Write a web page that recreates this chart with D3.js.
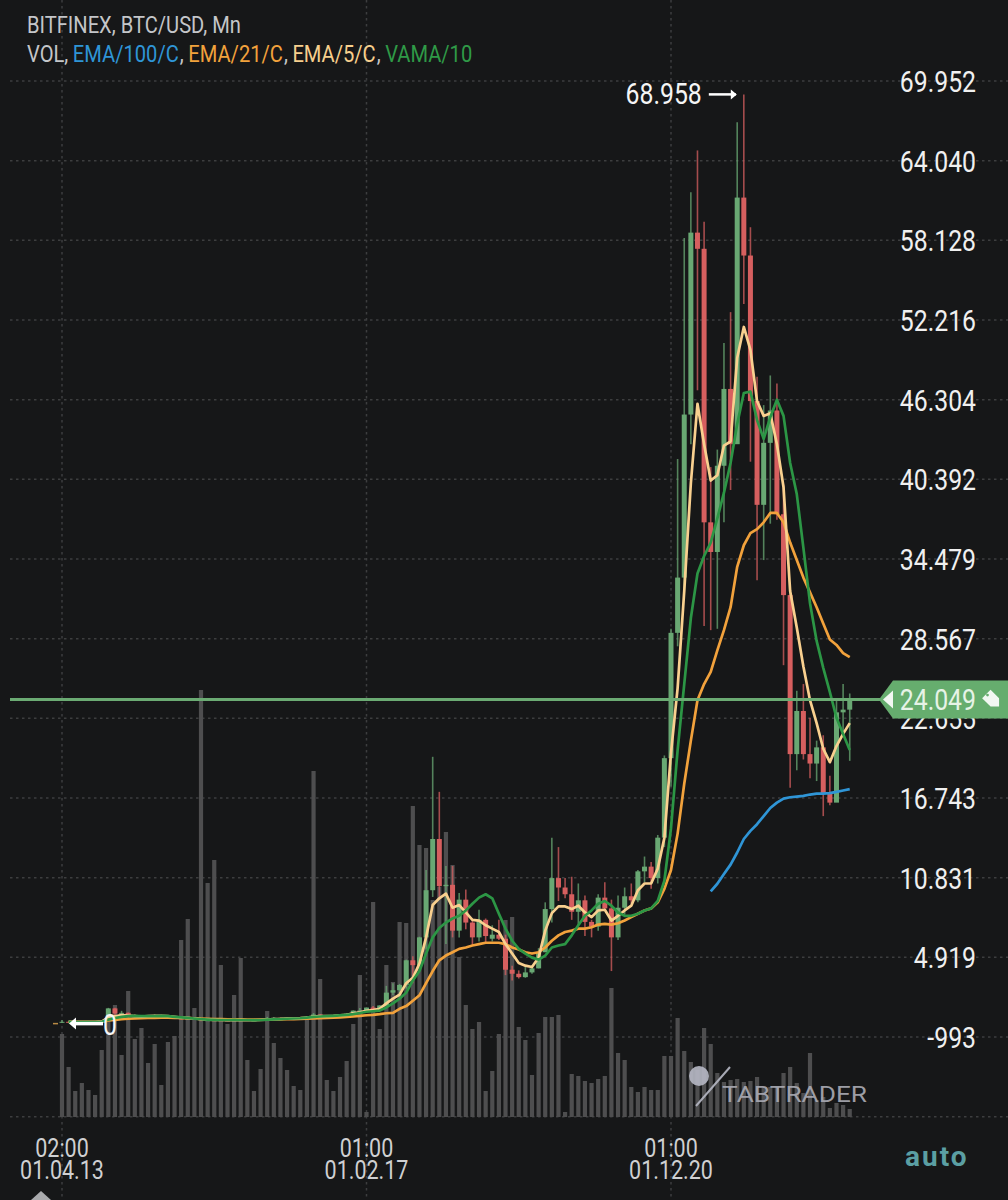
<!DOCTYPE html>
<html>
<head>
<meta charset="utf-8">
<script src="https://cdn.jsdelivr.net/npm/d3@7"></script>
<style>
  html, body { margin: 0; padding: 0; background: #161718; }
  svg { display: block; }
  text { font-family: Roboto, sans-serif; }
</style>
</head>
<body>
<div class="center"></div>
<script>
// monthly candles, values in thousands of USD
var open = [
  .1,.135,.129,.097,.106,.141,.133,.198,1.13,
  .75,.80,.55,.45,.44,.62,.64,.585,.48,.385,.33,.375,
  .32,.22,.255,.245,.235,.23,.262,.285,.23,.236,.315,.377,
  .43,.37,.435,.415,.45,.53,.67,.62,.575,.61,.70,.745,
  .965,.97,1.19,1.07,1.35,2.3,2.48,2.87,4.7,4.34,6.4,9.9,
  13.7,10.2,10.3,6.9,9.2,7.5,6.4,7.7,6.3,6.6,6.3,4.0,
  3.7,3.45,3.8,4.1,5.3,8.5,10.8,10.1,9.6,8.3,9.15,7.55,
  7.2,9.35,8.55,6.4,8.6,9.45,9.15,11.3,11.65,10.8,13.8,19.7,
  29.0,33.1,45.2,58.7,57.5,37.2,35.0,41.4,47.1,43.0,61.3,57.0,
  46.2,38.5,43.1,45.5,37.8,31.8,20.0,23.2,20.0,19.3,20.5,17.1,
  16.4,23.1,23.3
];
var high = [
  .26,.14,.13,.11,.15,.145,.22,1.17,1.17,
  .95,.83,.7,.55,.63,.68,.66,.59,.49,.42,.46,.38,
  .32,.265,.3,.26,.245,.27,.3,.285,.245,.33,.5,.47,
  .46,.45,.425,.47,.55,.78,.68,.61,.63,.71,.755,.98,
  1.15,1.2,1.3,1.35,2.8,3.0,2.95,4.75,5.0,6.45,11.4,19.8,
  17.2,11.7,11.7,9.7,9.95,7.8,8.45,7.8,7.3,7.7,6.6,4.3,
  3.95,4.2,4.15,5.6,9.0,13.8,13.1,10.8,10.9,10.4,9.5,7.7,
  9.6,10.5,9.2,9.5,10.1,10.4,11.4,12.4,12.0,14.0,19.9,29.3,
  41.9,58.3,61.7,64.8,59.5,41.3,42.6,50.5,52.8,66.9,68.958,59.1,
  48.0,45.9,48.1,47.5,40.0,32.4,24.7,25.2,22.7,21.0,21.4,18.4,
  24.0,25.2,24.5
];
var low = [
  .05,.08,.07,.065,.1,.12,.12,.19,.46,
  .7,.4,.4,.36,.42,.54,.56,.45,.36,.28,.31,.31,
  .17,.21,.235,.215,.225,.22,.255,.2,.225,.235,.31,.35,
  .35,.36,.39,.41,.44,.52,.58,.56,.59,.6,.69,.74,
  .75,.95,.9,1.05,1.3,2.1,1.9,2.6,3.0,4.1,5.5,9.4,
  9.4,5.9,6.4,6.4,7.0,5.8,6.1,6.0,6.1,6.2,3.6,3.2,
  3.35,3.4,3.7,4.1,5.3,7.5,9.1,9.3,7.7,7.3,6.5,6.4,
  6.9,8.4,3.9,6.2,8.1,8.9,9.0,10.5,10.0,10.4,13.1,17.6,
  28.0,32.0,43.0,47.0,29.5,29.2,29.3,37.2,39.6,43.8,53.4,41.7,
  32.9,34.4,37.1,37.4,26.6,17.5,18.8,19.6,18.2,18.0,15.4,16.2,
  16.5,21.4,19.5
];
var close = [
  .135,.129,.097,.106,.141,.133,.198,1.13,.75,
  .80,.55,.45,.44,.62,.64,.585,.48,.385,.33,.375,.32,
  .22,.255,.245,.235,.23,.262,.285,.23,.236,.315,.377,.43,
  .37,.435,.415,.45,.53,.67,.62,.575,.61,.70,.745,.965,
  .97,1.19,1.07,1.35,2.3,2.48,2.87,4.7,4.34,6.4,9.9,13.7,
  10.2,10.3,6.9,9.2,7.5,6.4,7.7,6.5,6.6,6.3,4.0,3.7,
  3.45,3.8,4.1,5.3,8.5,10.8,10.1,9.6,8.3,9.15,7.55,7.2,
  9.35,8.55,6.4,8.6,9.45,9.15,11.3,11.65,10.8,13.8,19.7,29.0,
  33.1,45.2,58.7,57.5,37.2,35.0,41.4,47.1,43.0,61.3,57.0,46.2,
  38.5,43.1,45.5,37.8,31.8,20.0,23.2,20.0,19.3,20.5,17.1,16.4,
  23.1,23.3,24.049
];
// volume, no scale in the picture so this is relative
var volume = [
  83,50,26,34,27,22,67,105,112,62,126,78,89,54,73,32,75,81,177,198,
  109,427,234,257,152,93,122,159,57,26,48,106,74,59,47,31,27,97,346,138,
  37,26,40,56,93,142,5,215,88,152,135,195,194,311,272,269,217,230,285,252,
  160,112,88,95,26,46,83,197,200,90,77,42,84,100,100,102,5,43,41,36,
  34,38,41,129,64,57,30,25,30,27,27,61,61,99,66,55,47,89,73,44,
  35,37,38,35,36,40,29,30,30,44,50,34,24,64,17,20,9,14,12,8
];
// indicator lines start at the second month, the first one shows nothing
var lineStart = 1;
var ema5 = [
  .13,.12,.11,.12,.12,.15,.47,.55,.63,.6,.56,.52,.55,.58,.58,.55,.5,.44,.42,
  .38,.33,.3,.28,.27,.25,.25,.26,.25,.25,.27,.3,.34,.35,.38,.39,.41,.45,.52,.55,
  .56,.57,.61,.65,.76,.83,.95,1.0,1.1,
  1.5,1.85,2.15,3.0,3.4,4.45,6.4,8.8,9.3,9.65,8.6,8.8,8.25,7.7,7.65,7.3,7.05,6.8,5.9,5.2,4.5,
  4.3,4.2,4.9,6.9,8.2,8.7,8.7,8.5,8.75,8.25,7.9,8.4,8.45,7.65,8.0,8.4,8.75,9.9,10.4,10.4,
  11.5,13.8,20.1,24.9,32.1,40.1,46,43,40.3,40.7,42.9,43.2,49.4,51.7,50,46.2,45.1,45.3,43,39.8,
  32.1,29.4,26.5,24,22.3,20.4,19.4,20.6,21.5,22.3
];
var ema21 = [
  .14,.13,.13,.13,.13,.14,.23,.28,.33,.36,.38,.4,.42,.43,.44,.44,.43,.42,.41,
  .39,.38,.36,.34,.33,.32,.31,.31,.3,.3,.3,.31,.32,.32,.33,.34,.35,.37,.39,.41,
  .43,.45,.47,.5,.54,.58,.62,.65,.7,
  .77,.8,1.1,1.3,1.7,2.1,3.0,3.9,4.7,5.05,5.3,5.55,5.65,5.8,5.9,6,6,6,5.9,5.65,5.5,
  5.3,5.2,5.3,5.65,6.15,6.55,6.8,6.9,7.05,7.05,7.15,7.35,7.4,7.35,7.45,7.65,7.9,8.15,8.4,8.55,
  9.0,10.0,11.4,14.1,17.8,21,24,25.2,26.1,27.7,29.2,30.9,33.9,35.5,36.4,36.7,37.2,37.9,37.9,37.2,
  35.7,34.4,33.1,32,30.9,29.7,28.5,28.1,27.5,27.2
];
var vama = [
  .13,.12,.12,.12,.12,.14,.3,.42,.5,.55,.57,.55,.55,.56,.57,.55,.5,.46,.42,
  .37,.33,.3,.28,.27,.27,.28,.27,.27,.26,.27,.29,.31,.33,.36,.38,.4,.44,.5,.53,
  .56,.58,.61,.65,.71,.79,.88,.92,.97,
  1.2,1.5,1.85,2.3,3.2,3.9,5.2,6.4,7.1,7.5,7.8,8.0,8.4,8.9,9.35,9.6,9.3,8.15,7.05,6.15,5.55,
  5.2,4.9,4.75,5.05,5.65,5.8,5.9,6.55,7.3,8.0,8.4,8.9,9.1,8.75,8.25,8.0,8.0,8.15,8.4,8.55,
  9.1,10.6,14.5,20.3,25.2,30.1,33.4,34.7,35.7,37.5,39.4,41.6,44.5,46.8,46.9,44.8,43.4,45,46.3,45.1,
  41.6,39.3,35.3,31.2,28.4,26.4,24.6,22.7,21.5,20.3
];
// EMA/100 only starts once it has enough months, first value is index 98
var ema100Start = 98;
var ema100 = [
  9.82,10.38,11.1,11.8,12.7,13.7,14.3,14.8,15.4,16.0,16.4,16.7,16.8,16.85,16.9,17.0,17.07,17.07,17.1,17.2,17.3,17.4
];

var priceTicks = [69.952,64.040,58.128,52.216,46.304,40.392,34.479,28.567,22.655,16.743,10.831,4.919,-0.993];
var timeTicks = [0, 46, 92];
var timeLabels = [["02:00","01.04.13"],["01:00","01.02.17"],["01:00","01.12.20"]];
var lastPrice = 24.049;
var maxPrice = 68.958;
var legendTop = [{t:"BITFINEX, BTC/USD, Mn", c:"#c4c6c9"}];
var legendBottom = [
  {t:"VOL,", c:"#c4c6c9"},
  {t:"EMA/100/C", c:"#2f95d6"},
  {t:",", c:"#c4c6c9"},
  {t:"EMA/21/C", c:"#f2a23c"},
  {t:",", c:"#c4c6c9"},
  {t:"EMA/5/C", c:"#f7cf8d"},
  {t:",", c:"#c4c6c9"},
  {t:"VAMA/10", c:"#2f9a47"}
];

var width = 1008, height = 1200;
var up = "#69a873", down = "#d65f5f";

var svg = d3.select(".center").append("svg")
    .attr("width", width)
    .attr("height", height);

// scales, both pinned on the grid lines of the reference
var x = d3.scaleLinear().domain([0, 92]).range([62, 671]);
var y = d3.scaleLinear().domain([69.952, -0.993]).range([81, 1037]);
var yVol = d3.scaleLinear().domain([0, 427]).range([1117, 690]);

// roboto is wider than the app font
function squeeze(sel, k) {
  sel.each(function() {
    d3.select(this)
      .attr("lengthAdjust", "spacingAndGlyphs")
      .attr("textLength", this.getComputedTextLength() * k);
  });
}

// grid
var gridY = priceTicks.concat([-6.905]);
svg.append("g").selectAll("line")
    .data(gridY)
  .enter().append("line")
    .attr("x1", 10).attr("x2", width)
    .attr("y1", d => y(d)).attr("y2", d => y(d))
    .attr("stroke", "#3d3e3f").attr("stroke-width", 1.5)
    .attr("stroke-dasharray", "2.5 3.5");
svg.append("g").selectAll("line")
    .data(timeTicks)
  .enter().append("line")
    .attr("x1", d => x(d)).attr("x2", d => x(d))
    .attr("y1", 0).attr("y2", height)
    .attr("stroke", "#3d3e3f").attr("stroke-width", 1.5)
    .attr("stroke-dasharray", "2.5 3.5");

// volume
svg.append("g").selectAll("rect")
    .data(volume)
  .enter().append("rect")
    .attr("x", (d, i) => x(i) - 2.1)
    .attr("width", 4.2)
    .attr("y", d => yVol(d))
    .attr("height", d => yVol(0) - yVol(d))
    .attr("fill", "#4e4e4f");

// candles
var candles = svg.append("g");
candles.selectAll("line")
    .data(close)
  .enter().append("line")
    .attr("x1", (d, i) => x(i)).attr("x2", (d, i) => x(i))
    .attr("y1", (d, i) => y(high[i])).attr("y2", (d, i) => y(low[i]))
    .attr("stroke", (d, i) => d >= open[i] ? up : down)
    .attr("stroke-opacity", 0.75)
    .attr("stroke-width", 1.6);
candles.selectAll("rect")
    .data(close)
  .enter().append("rect")
    .attr("x", (d, i) => x(i) - 2.5)
    .attr("width", 5)
    .attr("y", (d, i) => y(Math.max(d, open[i])))
    .attr("height", (d, i) => Math.max(1, Math.abs(y(d) - y(open[i]))))
    .attr("fill", (d, i) => d >= open[i] ? up : down);

// indicator lines, same order as the legend
var line = d3.line()
    .x(d => x(d.i))
    .y(d => y(d.v));
function series(values, start) {
  return values.map((v, k) => ({i: k + start, v: v}));
}
[[series(ema100, ema100Start), "#2f95d6"],
 [series(ema21, lineStart), "#f2a23c"],
 [series(ema5, lineStart), "#f9d08f"],
 [series(vama, lineStart), "#2c9645"]].forEach(function(s) {
  svg.append("path")
      .attr("d", line(s[0]))
      .attr("fill", "none")
      .attr("stroke", s[1])
      .attr("stroke-width", 2.7)
      .attr("stroke-linejoin", "round");
});

// stub left of the first candle
svg.append("line")
    .attr("x1", x(0) - 9).attr("x2", x(0) - 4)
    .attr("y1", y(0)).attr("y2", y(0))
    .attr("stroke", "#b98a45").attr("stroke-width", 1.5);

// watermark
var mark = svg.append("g").attr("opacity", 0.92);
mark.append("circle").attr("cx", 699).attr("cy", 1076).attr("r", 10).attr("fill", "#b4b6c2");
mark.append("line")
    .attr("x1", 696).attr("y1", 1106).attr("x2", 730).attr("y2", 1067)
    .attr("stroke", "#b4b6c2").attr("stroke-width", 2);
mark.append("text")
    .attr("x", 722).attr("y", 1102)
    .attr("font-size", 22)
    .attr("textLength", 145)
    .attr("lengthAdjust", "spacingAndGlyphs")
    .attr("fill", "#a8a9b2")
    .text("TABTRADER");

// price axis
var yAxis = d3.axisLeft(y)
    .tickValues(priceTicks)
    .tickSize(0)
    .tickFormat(d => d < 0 ? String(Math.round(d * 1000)) : d.toFixed(3));
var axisG = svg.append("g")
    .attr("transform", "translate(976,0)")
    .call(yAxis);
axisG.select(".domain").remove();
axisG.selectAll("text")
    .attr("x", 0)
    .attr("dy", "0.36em")
    .attr("fill", "#f0f0f0")
    .attr("font-size", 29)
    .attr("font-family", "Roboto")
    .call(squeeze, 0.855);

// time axis, two lines per tick
var timeG = svg.append("g").selectAll("g")
    .data(timeTicks)
  .enter().append("g");
timeG.append("text")
    .attr("x", d => x(d)).attr("y", 1157)
    .attr("text-anchor", "middle")
    .attr("font-size", 25).attr("fill", "#cfd0d2")
    .text((d, i) => timeLabels[i][0])
    .call(squeeze, 0.86);
timeG.append("text")
    .attr("x", d => x(d)).attr("y", 1179)
    .attr("text-anchor", "middle")
    .attr("font-size", 25).attr("fill", "#cfd0d2")
    .text((d, i) => timeLabels[i][1])
    .call(squeeze, 0.86);

svg.append("text")
    .attr("x", 905).attr("y", 1166)
    .attr("font-size", 28).attr("font-weight", 700)
    .attr("letter-spacing", 2)
    .attr("fill", "#5b9fa3")
    .text("auto");
svg.append("path")
    .attr("d", "M41,1191L51,1200L31,1200Z")
    .attr("fill", "#a9aaac");

// legend, each piece is its own text so the colours can follow each other
var legendScale = 0.875;
[[legendTop, 33], [legendBottom, 62]].forEach(function(row) {
  var cx = 27;
  row[0].forEach(function(p) {
    var t = svg.append("text")
        .attr("transform", "translate(" + cx + "," + row[1] + ") scale(" + legendScale + ",1)")
        .attr("font-size", 23)
        .attr("fill", p.c)
        .text(p.t);
    cx += t.node().getComputedTextLength() * legendScale + (p.t.slice(-1) == "," ? 4.5 : 1);
  });
});

// max and min markers
var iMax = high.indexOf(maxPrice);
var arrow = svg.append("g").attr("stroke", "#fff").attr("fill", "#fff");
arrow.append("line")
    .attr("x1", x(iMax) - 35).attr("x2", x(iMax) - 8)
    .attr("y1", y(maxPrice)).attr("y2", y(maxPrice))
    .attr("stroke-width", 2.5);
arrow.append("path")
    .attr("stroke", "none")
    .attr("d", "M" + (x(iMax) - 7) + "," + y(maxPrice) + "l-6,-5v10z");
svg.append("text")
    .attr("x", x(iMax) - 42).attr("y", y(maxPrice) + 10)
    .attr("text-anchor", "end")
    .attr("font-size", 29).attr("fill", "#f5f5f5")
    .text(maxPrice.toFixed(3))
    .call(squeeze, 0.855);

arrow.append("line")
    .attr("x1", 76).attr("x2", 103)
    .attr("y1", y(0)).attr("y2", y(0))
    .attr("stroke-width", 3.5);
arrow.append("path")
    .attr("stroke", "none")
    .attr("d", "M69," + y(0) + "l7,-6v12z");
svg.append("text")
    .attr("x", 103).attr("y", y(0) + 11)
    .attr("font-size", 29).attr("fill", "#f5f5f5")
    .text("0")
    .call(squeeze, 0.855);

// last price line and tag
var yLast = y(lastPrice);
svg.append("line")
    .attr("x1", 10).attr("x2", 880)
    .attr("y1", yLast).attr("y2", yLast)
    .attr("stroke", "#6bab73").attr("stroke-width", 3);
svg.append("path")
    .attr("d", "M879," + yLast + "L893," + (yLast - 19) + "L1008," + (yLast - 19) + "L1008," + (yLast + 19) + "L893," + (yLast + 19) + "Z")
    .attr("fill", "#66ad6e");
svg.append("path")
    .attr("d", "M883," + yLast + "L893," + (yLast - 9) + "L893," + (yLast + 9) + "Z")
    .attr("fill", "#f2f7f2");
svg.append("text")
    .attr("x", 976).attr("y", yLast + 10)
    .attr("text-anchor", "end")
    .attr("font-size", 29).attr("fill", "#e6f3e6")
    .text(lastPrice.toFixed(3))
    .call(squeeze, 0.855);
// little tag icon
svg.append("path")
    .attr("transform", "translate(992," + yLast + ") rotate(-45)")
    .attr("d", "M-6,-8L6,-8L6,4L0,10L-6,4Z")
    .attr("fill", "#f2f7f2");
svg.append("circle")
    .attr("cx", 987.5).attr("cy", yLast - 4.5).attr("r", 1.4)
    .attr("fill", "#66ad6e");
</script>
</body>
</html>
